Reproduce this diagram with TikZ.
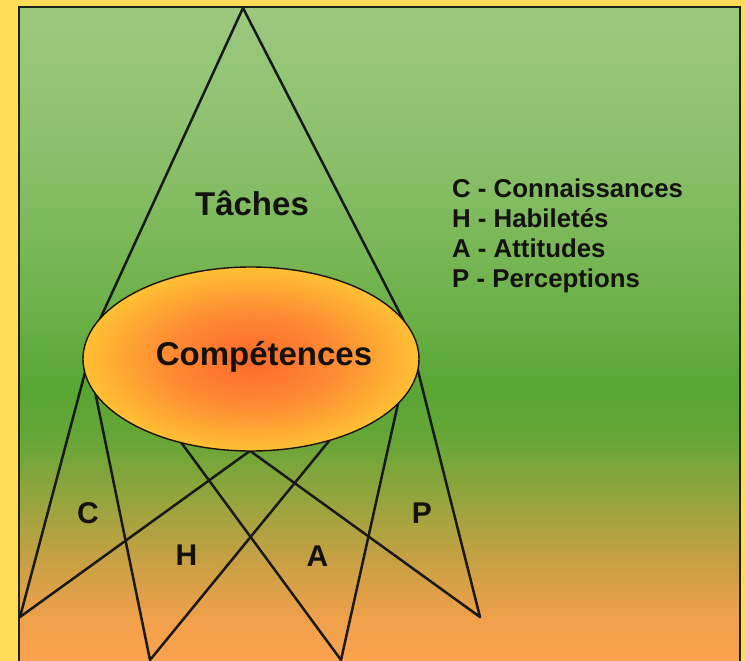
\documentclass[tikz,border=0pt]{standalone}
\usepackage{fontspec}
\setmainfont{Liberation Sans}
\usetikzlibrary{shapes.geometric}
\definecolor{yel}{RGB}{255,221,88}
\definecolor{frame}{RGB}{30,34,24}
\definecolor{c0}{RGB}{250,162,78}
\definecolor{c1}{RGB}{240,160,75}
\definecolor{c2}{RGB}{200,160,68}
\definecolor{c3}{RGB}{150,165,62}
\definecolor{c4}{RGB}{102,166,55}
\definecolor{c5}{RGB}{88,166,52}
\definecolor{c6}{RGB}{110,178,75}
\definecolor{c7}{RGB}{140,192,108}
\definecolor{c8}{RGB}{156,200,126}
\definecolor{e0}{RGB}{252,104,46}
\definecolor{e1}{RGB}{254,140,50}
\definecolor{e2}{RGB}{255,192,52}
\definecolor{txt}{RGB}{20,18,14}
\pgfdeclareverticalshading{bgshade}{100bp}{color(0bp)=(c0); color(25bp)=(c0); color(28.1bp)=(c1); color(32.7bp)=(c2); color(37.3bp)=(c3); color(41.9bp)=(c4); color(45.7bp)=(c5); color(52.6bp)=(c6); color(64bp)=(c7); color(75bp)=(c8); color(100bp)=(c8)}
\pgfdeclareradialshading{ellshade}{\pgfpoint{0bp}{0bp}}{color(0bp)=(e0); color(13bp)=(e1); color(25bp)=(e2); color(50bp)=(e2)}
\begin{document}
\begin{tikzpicture}[x=1pt,y=-1pt,
  ln/.style={line width=2.5pt, draw=black!90, line cap=round, line join=round},
  big/.style={font=\fontsize{33}{33}\selectfont\bfseries, text=txt, inner sep=0pt, anchor=base},
  letter/.style={font=\fontsize{30}{30}\selectfont\bfseries, text=txt, inner sep=0pt, anchor=base},
  legend/.style={font=\fontsize{25.8}{25.8}\selectfont\bfseries, text=txt, inner sep=0pt, anchor=base west},
  ell/.style={ellipse, shading=ellshade, draw=black!85!brown, line width=1.4pt, minimum width=336pt, minimum height=184pt, inner sep=0pt}]
\useasboundingbox (0,0) rectangle (745,661);
\fill[yel] (0,0) rectangle (745,661);
\shade[shading=bgshade] (19,7) rectangle (740,661);
\draw[line width=2.2pt, frame] (19,668) -- (19,7) -- (740,7) -- (740,668);
% points
\coordinate (apex) at (243,8);
\coordinate (b1) at (20,617);
\coordinate (b2) at (150,660);
\coordinate (b3) at (341,660);
\coordinate (b4) at (480,617);
\coordinate (tl) at (95,330);
\coordinate (tr) at (411,335);
\coordinate (e1) at (91,350);
\coordinate (e2) at (265,440);
\coordinate (e3) at (89,362);
\coordinate (e4) at (338,430);
\coordinate (e5) at (172,430);
\coordinate (e6) at (401,390);
\coordinate (e7) at (235,440);
\coordinate (e8) at (414,355);
% lines
\draw[ln] (tl) -- (apex) -- (tr);
\draw[ln] (e1) -- (b1) -- (e2);
\draw[ln] (e3) -- (b2) -- (e4);
\draw[ln] (e5) -- (b3) -- (e6);
\draw[ln] (e7) -- (b4) -- (e8);
% ellipse
\node[ell] (comp) at (251,359) {};
\node[big] (comptxt) at (264,365) {Compétences};
\node[big] (taches) at (252,215) {Tâches};
% letters
\node[letter] (lc) at (88,523) {C};
\node[letter] (lh) at (186.5,565) {H};
\node[letter] (la) at (317.5,566) {A};
\node[letter] (lp) at (422,523) {P};
% legend
\node[legend] (l1) at (452,197) {C - Connaissances};
\node[legend] (l2) at (452,227) {H - Habiletés};
\node[legend] (l3) at (452,257) {A - Attitudes};
\node[legend] (l4) at (452,287) {P - Perceptions};
\end{tikzpicture}
\end{document}
